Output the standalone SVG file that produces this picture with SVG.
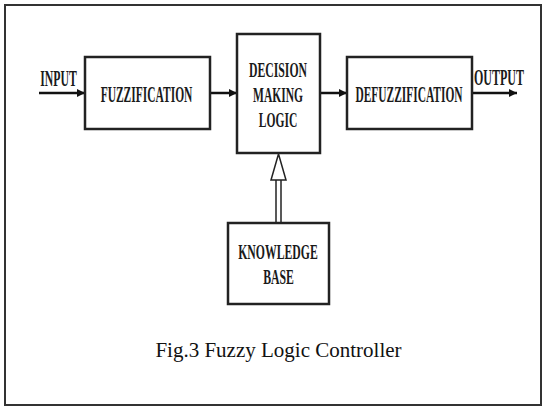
<svg xmlns="http://www.w3.org/2000/svg" width="546" height="407" viewBox="0 0 546 407">
<defs>
<style>
.box{fill:#fff;stroke:#222;stroke-width:2.5}
.lbl{font-family:"Liberation Serif","Times New Roman",serif;font-weight:bold;font-size:23px;fill:#1a1a1a;text-anchor:middle}
.ml{font-size:21px}
.cap{font-family:"Liberation Serif","Times New Roman",serif;font-size:21px;fill:#111}
.ln{stroke:#111;stroke-width:2.5;fill:none}
</style>
<marker id="ah" viewBox="0 0 10 10" refX="10" refY="5" markerWidth="9" markerHeight="8" markerUnits="userSpaceOnUse" orient="auto">
<path d="M0,0 L10,5 L0,10 Z" fill="#111"/>
</marker>
</defs>
<rect x="5" y="5" width="536" height="400" fill="#fff" stroke="#333" stroke-width="2"/>
<g id="connectors">
<line class="ln" x1="39" y1="93" x2="85" y2="93" marker-end="url(#ah)"/>
<line class="ln" x1="210" y1="93" x2="237" y2="93" marker-end="url(#ah)"/>
<line class="ln" x1="320" y1="93" x2="347" y2="93" marker-end="url(#ah)"/>
<line class="ln" x1="472" y1="93" x2="517" y2="93" marker-end="url(#ah)"/>
<g id="kb-arrow" stroke="#222" stroke-width="1.5" fill="#fff">
<line x1="276" y1="180" x2="276" y2="223"/>
<line x1="281" y1="180" x2="281" y2="223"/>
<path d="M278.5,154 L286,180 L271,180 Z"/>
</g>
</g>
<g id="input-label"><text class="lbl" transform="translate(58.5,86) scale(0.511,1)">INPUT</text></g>
<g id="fuzzification">
<rect class="box" x="85" y="57" width="125" height="72"/>
<text class="lbl" transform="translate(146.5,102) scale(0.5,1)">FUZZIFICATION</text>
</g>
<g id="decision">
<rect class="box" x="237" y="34" width="83" height="119"/>
<text class="lbl ml" transform="translate(278,77) scale(0.56,1)">DECISION</text>
<text class="lbl ml" transform="translate(278,102) scale(0.55,1)">MAKING</text>
<text class="lbl ml" transform="translate(278,127) scale(0.55,1)">LOGIC</text>
</g>
<g id="defuzzification">
<rect class="box" x="347" y="57" width="125" height="72"/>
<text class="lbl" transform="translate(409,102) scale(0.497,1)">DEFUZZIFICATION</text>
</g>
<g id="output-label"><text class="lbl" transform="translate(499,85) scale(0.522,1)">OUTPUT</text></g>
<g id="knowledge">
<rect class="box" x="228" y="223" width="101" height="81"/>
<text class="lbl ml" transform="translate(278,259) scale(0.56,1)">KNOWLEDGE</text>
<text class="lbl ml" transform="translate(278.5,284) scale(0.56,1)">BASE</text>
</g>
<text class="cap" x="278.5" y="357" text-anchor="middle">Fig.3 Fuzzy Logic Controller</text>
</svg>
